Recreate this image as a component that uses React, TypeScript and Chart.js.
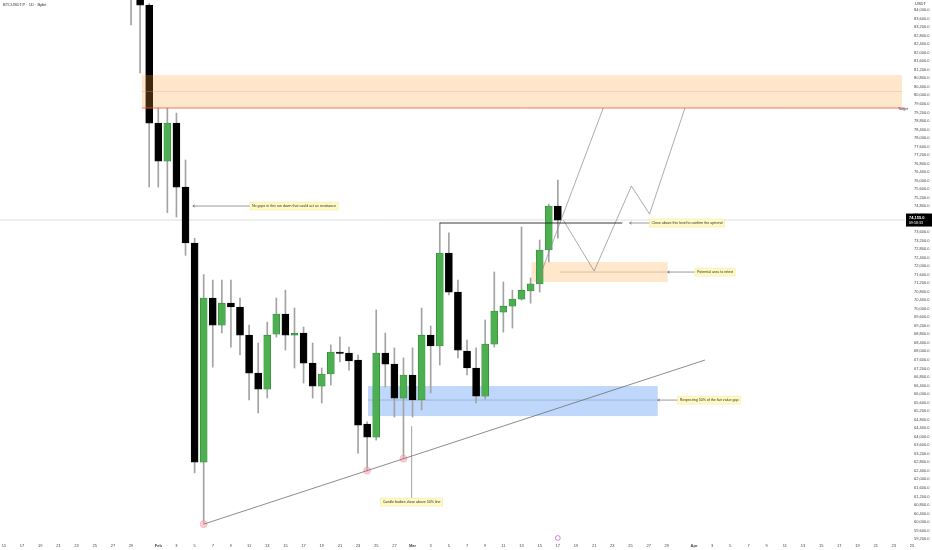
import React, { useEffect, useRef } from "react";
import { Chart, registerables } from "chart.js";
Chart.register(...registerables);

// ---- data (day number: days since 2026-01-01) ----
const candleDays = [28, 29, 30, 31, 32, 33, 34, 35, 36, 37, 38, 39, 40, 41, 42, 43, 44, 45, 46, 47, 48, 49, 50, 51, 52, 53, 54, 55, 56, 57, 58, 59, 60, 61, 62, 63, 64, 65, 66, 67, 68, 69, 70, 71, 72, 73, 74, 75];
const opens = [87500, 84900, 84230, 78700, 76920, 78700, 75700, 73080, 62810, 70500, 69230, 70260, 70080, 68760, 66980, 66230, 68810, 69750, 68760, 68860, 67450, 66370, 66940, 67970, 67920, 67590, 64590, 63980, 67920, 67400, 65810, 66890, 65720, 68760, 68250, 72610, 70780, 68010, 67220, 65900, 68340, 69840, 70120, 70450, 70830, 71160, 72750, 74810];
const highs = [88500, 85600, 84300, 79400, 79400, 79170, 76970, 73300, 71600, 71340, 71340, 71340, 70500, 69230, 68390, 69370, 70500, 70870, 70030, 69140, 68390, 67220, 68300, 68670, 68200, 67830, 64700, 69940, 68860, 68160, 67690, 68160, 70030, 69190, 74020, 73550, 71340, 68530, 68160, 69470, 71720, 71250, 70870, 73830, 71440, 73220, 74900, 76030];
const lows = [83300, 81050, 75700, 75700, 74500, 74300, 72500, 62300, 59900, 67260, 68860, 68200, 67830, 65720, 65110, 65810, 68670, 68060, 67220, 66510, 65810, 65580, 66420, 67500, 67120, 63230, 62400, 63840, 66330, 64920, 62960, 64920, 65250, 66050, 67360, 70640, 67690, 66890, 65580, 65760, 68200, 68900, 69090, 70400, 70260, 70780, 72190, 73310];
const closes = [84900, 84230, 78700, 76920, 78700, 75700, 73080, 62810, 70500, 69230, 70260, 70080, 68760, 66980, 66230, 68760, 69750, 68760, 68850, 67450, 66370, 66940, 67970, 67900, 67550, 64540, 63980, 67920, 67400, 65810, 66890, 65720, 68760, 68250, 72610, 70780, 68060, 67220, 65900, 68340, 69890, 70120, 70450, 70870, 71160, 72750, 74810, 74155];

const xTickDays = [14, 16, 18, 20, 22, 24, 26, 28, 31, 33, 35, 37, 39, 41, 43, 45, 47, 49, 51, 53, 55, 57, 59, 61, 63, 65, 67, 69, 71, 73, 75, 77, 79, 81, 83, 85, 87, 90, 92, 94, 96, 98, 100, 102, 104, 106, 108, 110, 112, 114];
const xTickLabels = ["15", "17", "19", "21", "23", "25", "27", "29", "Feb", "3", "5", "7", "9", "11", "13", "15", "17", "19", "21", "23", "25", "27", "Mar", "3", "5", "7", "9", "11", "13", "15", "17", "19", "21", "23", "25", "27", "29", "Apr", "3", "5", "7", "9", "11", "13", "15", "17", "19", "21", "23", "25"];
const monthLabels = ["Feb", "Mar", "Apr"];
const yTickFrom = 59200;
const yTickTo = 84000;
const yTickStep = 400;

const lastPrice = 74155;
const todayDay = 75;

// annotations (data space)
const targetZone = { from: 29.2, to: 112.9, low: 79406, high: 80953, mid: 80180 };
const targetLine = { from: 29.2, to: 113.2, price: 79406 };
const confirmLevel = { from: 62, to: 82.1, price: 74016 };
const retestZone = { from: 72.1, to: 87.1, low: 71249, high: 72186, mid: 71717, midFrom: 75.2 };
const fvgZone = { from: 54.1, to: 86.0, low: 64966, high: 66373, mid: 65716 };
const trendline = [{ x: 36, y: 59900 }, { x: 91.2, y: 67592 }];
const pathA = [{ x: 72.7, y: 71155 }, { x: 80, y: 79406 }];
const pathB = [{ x: 75.6, y: 74155 }, { x: 79, y: 71764 }, { x: 83.1, y: 75749 }, { x: 85.1, y: 74437 }, { x: 89, y: 79406 }];
const touchPoints = [{ x: 36, y: 59900 }, { x: 54, y: 62410 }, { x: 58, y: 62970 }];

const noteNoGaps = { text: "No gaps in this run down that could act as resistance", from: 34.8, to: 41.1, price: 74812 };
const noteConfirm = { text: "Close above this level to confirm the uptrend", from: 82.9, to: 85.1, price: 74016 };
const noteRetest = { text: "Potential area to retest", from: 87.1, to: 90.1, price: 71717 };
const noteFvg = { text: "Respecting 50% of the fair value gap", from: 86.0, to: 88.2, price: 65716 };
const noteBodies = { text: "Candle bodies close above 50% line", day: 58.9, top: 64497, bottom: 61122 };

const FONT = "'Liberation Sans', Arial, sans-serif";

const fmt = (v: number) =>
  v.toLocaleString("en-US", { minimumFractionDigits: 1, maximumFractionDigits: 1 });

export default function App() {
  const ref = useRef<HTMLCanvasElement>(null);
  useEffect(() => {
    if (!ref.current) return;
    const green = "#4caf50";
    const bodyColors = candleDays.map((_, i) => (closes[i] >= opens[i] ? green : "#000000"));
    const bodyBorders = candleDays.map((_, i) => (closes[i] >= opens[i] ? "#2e7d32" : "#000000"));

    const drawNote = (ctx: CanvasRenderingContext2D, text: string, x: number, y: number, align: "left" | "center") => {
      ctx.font = `3.6px ${FONT}`;
      const w = ctx.measureText(text).width + 4;
      const left = align === "left" ? x : x - w / 2;
      ctx.fillStyle = "#fff9c4";
      ctx.fillRect(left, y - 4, w, 8);
      ctx.strokeStyle = "#efe6a0";
      ctx.lineWidth = 0.5;
      ctx.strokeRect(left, y - 4, w, 8);
      ctx.fillStyle = "#333";
      ctx.textAlign = "left";
      ctx.textBaseline = "middle";
      ctx.fillText(text, left + 2, y + 0.3);
    };
    const arrowLine = (ctx: CanvasRenderingContext2D, x1: number, x2: number, y: number) => {
      ctx.strokeStyle = "#555";
      ctx.lineWidth = 0.6;
      ctx.beginPath();
      ctx.moveTo(x1, y);
      ctx.lineTo(x2, y);
      ctx.stroke();
      ctx.beginPath();
      ctx.moveTo(x1 + 2, y - 1.2);
      ctx.lineTo(x1, y);
      ctx.lineTo(x1 + 2, y + 1.2);
      ctx.stroke();
    };

    const annot = {
      id: "annot",
      beforeDatasetsDraw(chart: any) {
        const { ctx, chartArea, scales } = chart;
        const X = (v: number) => scales.x.getPixelForValue(v);
        const Y = (v: number) => scales.y.getPixelForValue(v);
        const y = Y(lastPrice);
        ctx.save();
        ctx.strokeStyle = "#c8c8c8";
        ctx.lineWidth = 0.6;
        ctx.beginPath();
        ctx.moveTo(chartArea.left, y);
        ctx.lineTo(chartArea.right, y);
        ctx.stroke();

        // retest zone (behind candles)
        ctx.fillStyle = "rgba(255,160,50,0.25)";
        ctx.fillRect(X(retestZone.from), Y(retestZone.high), X(retestZone.to) - X(retestZone.from), Y(retestZone.low) - Y(retestZone.high));
        ctx.strokeStyle = "rgba(120,100,80,0.6)";
        ctx.lineWidth = 0.5;
        ctx.beginPath();
        ctx.moveTo(X(retestZone.midFrom), Y(retestZone.mid));
        ctx.lineTo(X(retestZone.to), Y(retestZone.mid));
        ctx.stroke();

        // fvg zone (behind candles)
        ctx.fillStyle = "rgba(70,140,240,0.35)";
        ctx.fillRect(X(fvgZone.from), Y(fvgZone.high), X(fvgZone.to) - X(fvgZone.from), Y(fvgZone.low) - Y(fvgZone.high));
        ctx.strokeStyle = "rgba(60,80,120,0.5)";
        ctx.beginPath();
        ctx.moveTo(X(fvgZone.from), Y(fvgZone.mid));
        ctx.lineTo(X(fvgZone.to), Y(fvgZone.mid));
        ctx.stroke();
        ctx.restore();
      },
      afterDatasetsDraw(chart: any) {
        const { ctx, scales } = chart;
        const X = (v: number) => scales.x.getPixelForValue(v);
        const Y = (v: number) => scales.y.getPixelForValue(v);
        ctx.save();
        // target zone
        ctx.fillStyle = "rgba(255,160,50,0.25)";
        ctx.fillRect(X(targetZone.from), Y(targetZone.high), X(targetZone.to) - X(targetZone.from), Y(targetZone.low) - Y(targetZone.high));
        ctx.strokeStyle = "rgba(230,160,90,0.6)";
        ctx.lineWidth = 0.5;
        ctx.beginPath();
        ctx.moveTo(X(targetZone.from), Y(targetZone.mid));
        ctx.lineTo(X(targetZone.to), Y(targetZone.mid));
        ctx.stroke();
        ctx.strokeStyle = "#f05545";
        ctx.lineWidth = 0.8;
        ctx.beginPath();
        ctx.moveTo(X(targetLine.from), Y(targetLine.price));
        ctx.lineTo(X(targetLine.to), Y(targetLine.price));
        ctx.stroke();
        ctx.fillStyle = "#333";
        ctx.font = `3.6px ${FONT}`;
        ctx.textAlign = "left";
        ctx.textBaseline = "middle";
        ctx.fillText("Target", X(targetZone.to) - 4, Y(targetLine.price) + 0.5);

        // confirm level
        ctx.strokeStyle = "#222";
        ctx.lineWidth = 0.9;
        ctx.beginPath();
        ctx.moveTo(X(confirmLevel.from), Y(confirmLevel.price));
        ctx.lineTo(X(confirmLevel.to), Y(confirmLevel.price));
        ctx.stroke();

        // notes
        arrowLine(ctx, X(noteNoGaps.from), X(noteNoGaps.to), Y(noteNoGaps.price));
        drawNote(ctx, noteNoGaps.text, X(noteNoGaps.to), Y(noteNoGaps.price), "left");
        arrowLine(ctx, X(noteConfirm.from), X(noteConfirm.to), Y(noteConfirm.price));
        drawNote(ctx, noteConfirm.text, X(noteConfirm.to), Y(noteConfirm.price), "left");
        arrowLine(ctx, X(noteRetest.from), X(noteRetest.to), Y(noteRetest.price));
        drawNote(ctx, noteRetest.text, X(noteRetest.to), Y(noteRetest.price), "left");
        arrowLine(ctx, X(noteFvg.from), X(noteFvg.to), Y(noteFvg.price));
        drawNote(ctx, noteFvg.text, X(noteFvg.to), Y(noteFvg.price), "left");
        ctx.strokeStyle = "#666";
        ctx.lineWidth = 0.6;
        ctx.beginPath();
        ctx.moveTo(X(noteBodies.day), Y(noteBodies.top));
        ctx.lineTo(X(noteBodies.day), Y(noteBodies.bottom));
        ctx.stroke();
        drawNote(ctx, noteBodies.text, X(noteBodies.day), Y(noteBodies.bottom) + 4, "center");
        ctx.restore();
      },
      afterDraw(chart: any) {
        const { ctx, chartArea, scales } = chart;
        ctx.save();
        // title
        ctx.fillStyle = "#333";
        ctx.font = `4px ${FONT}`;
        ctx.textAlign = "left";
        ctx.textBaseline = "middle";
        ctx.fillText("BTCUSDT.P · 1D · Bybit", 3, 5);
        ctx.fillText("USDT", chartArea.right + 10, 4);
        // last price label
        const y = scales.y.getPixelForValue(lastPrice);
        ctx.fillStyle = "#000";
        ctx.fillRect(chartArea.right + 1, y - 6.5, 26, 13);
        ctx.fillStyle = "#fff";
        ctx.font = `bold 4px ${FONT}`;
        ctx.fillText(fmt(lastPrice), chartArea.right + 4, y - 2.5);
        ctx.font = `3.6px ${FONT}`;
        ctx.fillText("09:58:33", chartArea.right + 4, y + 2.5);
        // today marker on time axis
        const tx = scales.x.getPixelForValue(todayDay);
        ctx.strokeStyle = "#c050d0";
        ctx.lineWidth = 0.7;
        ctx.beginPath();
        ctx.arc(tx, chartArea.bottom - 3, 2.4, 0, Math.PI * 2);
        ctx.stroke();
        ctx.restore();
      },
    };

    const chart = new Chart(ref.current, {
      type: "bar",
      data: {
        datasets: [
          {
            type: "bar",
            data: candleDays.map((d, i) => ({ x: d, y: [opens[i], closes[i]] })) as any,
            backgroundColor: bodyColors,
            borderColor: bodyBorders,
            borderWidth: 0.6,
            borderSkipped: false,
            barThickness: 7,
            grouped: false,
            order: 1,
          } as any,
          {
            type: "bar",
            data: candleDays.map((d, i) => ({ x: d, y: [lows[i], highs[i]] })) as any,
            backgroundColor: "#a3a3a3",
            borderWidth: 0,
            barThickness: 1,
            grouped: false,
            order: 2,
          } as any,
          {
            type: "line",
            data: trendline,
            borderColor: "#6f6f6f",
            borderWidth: 0.8,
            pointRadius: 0,
            order: 0,
          } as any,
          {
            type: "line",
            data: pathA,
            borderColor: "#888",
            borderWidth: 0.7,
            pointRadius: 0,
            order: 0,
          } as any,
          {
            type: "line",
            data: pathB,
            borderColor: "#888",
            borderWidth: 0.7,
            pointRadius: 0,
            order: 0,
          } as any,
          {
            type: "scatter",
            data: touchPoints,
            pointRadius: 3.5,
            backgroundColor: "rgba(255,170,185,0.55)",
            borderColor: "rgba(240,120,140,0.6)",
            borderWidth: 0.6,
            order: 0,
          } as any,
        ],
      },
      options: {
        animation: false,
        responsive: false,
        maintainAspectRatio: false,
        devicePixelRatio: 1,
        layout: { padding: 0, autoPadding: false },
        plugins: { legend: { display: false }, tooltip: { enabled: false } },
        scales: {
          x: {
            type: "linear",
            min: 13.57,
            max: 113.23,
            offset: false,
            grid: { display: false, drawTicks: false },
            border: { display: false },
            afterBuildTicks: (s: any) => {
              s.ticks = xTickDays.map((v) => ({ value: v }));
            },
            afterFit: (s: any) => {
              s.height = 9;
              s.paddingLeft = 0;
              s.paddingRight = 0;
            },
            ticks: {
              autoSkip: false,
              maxRotation: 0,
              padding: 2,
              color: "#444",
              font: (c: any) => ({
                size: 4,
                family: FONT,
                weight: c.index !== undefined && monthLabels.includes(xTickLabels[c.index]) ? "bold" : "normal",
              }),
              callback: (v: any, i: number) => xTickLabels[i],
            },
          },
          y: {
            type: "linear",
            position: "right",
            min: 59110,
            max: 84470,
            grid: { display: false, drawTicks: false },
            border: { display: false },
            afterBuildTicks: (s: any) => {
              const t: any[] = [];
              for (let v = yTickFrom; v <= yTickTo; v += yTickStep) t.push({ value: v });
              s.ticks = t;
            },
            afterFit: (s: any) => {
              s.width = 27;
              s.paddingTop = 0;
              s.paddingBottom = 0;
            },
            ticks: {
              autoSkip: false,
              padding: 9,
              color: "#444",
              font: { size: 4, family: FONT },
              callback: (v: any) => fmt(v),
            },
          },
        },
      } as any,
      plugins: [annot],
    });
    return () => chart.destroy();
  }, []);

  return (
    <div style={{ position: "fixed", left: 0, top: 0, width: 932, height: 550, background: "#fff" }}>
      <canvas ref={ref} width={932} height={550} />
    </div>
  );
}
